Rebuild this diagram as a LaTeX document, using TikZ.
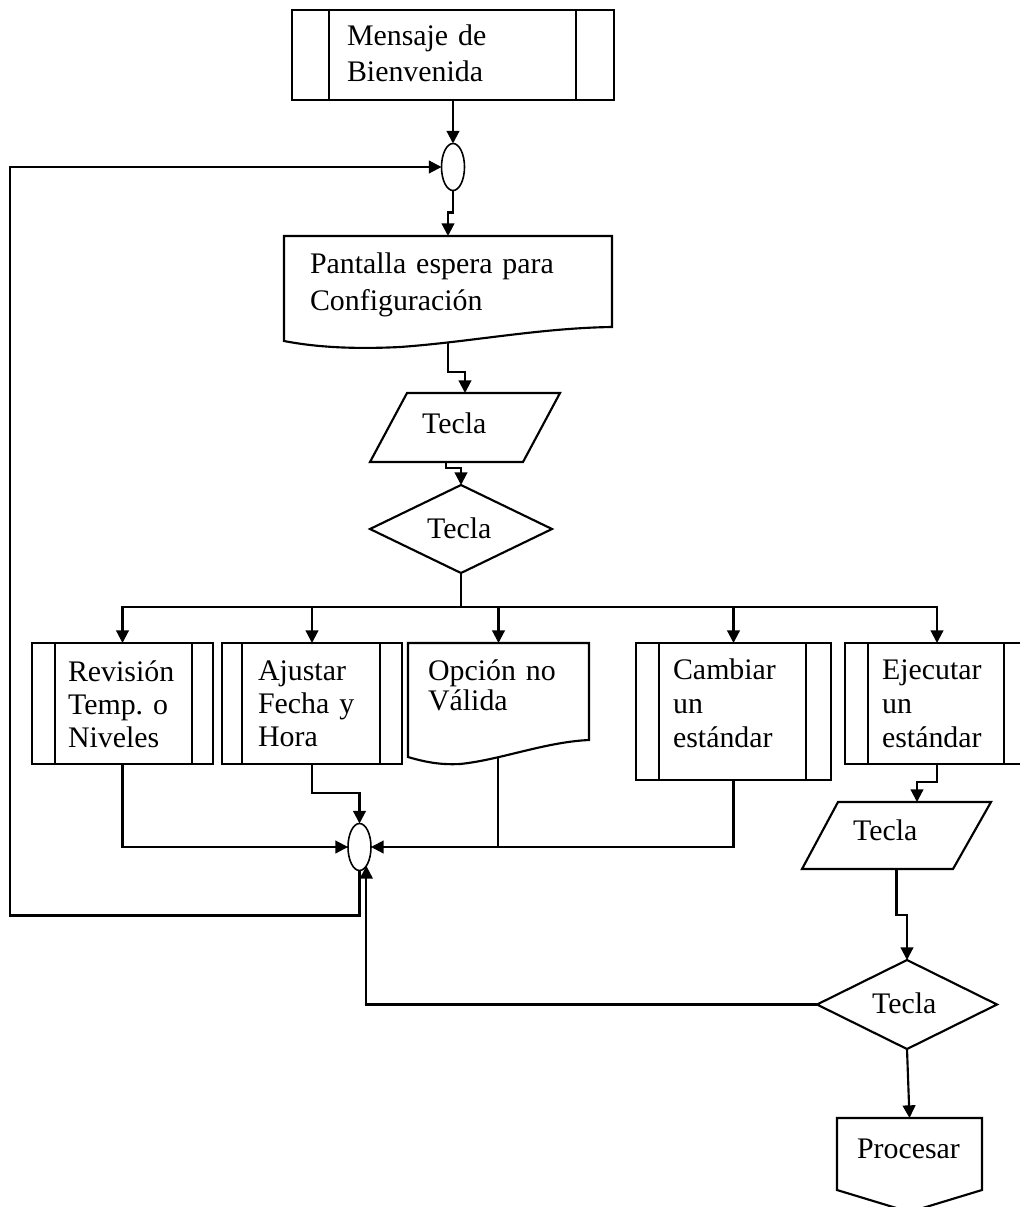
\documentclass[tikz,border=0pt]{standalone}
\usepackage{fontspec}
\setmainfont{Liberation Serif}
\usetikzlibrary{arrows.meta,fit,shapes.geometric,calc}
\frenchspacing
\begin{document}
\begin{tikzpicture}[x=0.75pt,y=-0.75pt,line width=1.6pt,
  frame/.style={inner sep=0pt,outer sep=0pt,fit={#1}},
  proc/.style={frame={#1},draw},
  conn/.style={ellipse,draw,line width=1.2pt,inner sep=0pt,outer sep=0pt,
    minimum width=17.25pt,minimum height=35.25pt},
  lbl/.style={inner sep=0pt,anchor=base west,align=left,text width=200pt,
    font=\fontsize{22.4}{#1}\selectfont},
  lbl/.default=27.5pt,
  arr/.style={-{Triangle[length=9.5pt,width=9.5pt]}},
]
\useasboundingbox (0,0) rectangle (1020,1207);
\clip (0,0) rectangle (1020,1207);

% welcome message (predefined process)
\node[proc={(292,10) (614,100)}] (msg) {};
\node[lbl=27.5pt] (msgT) at (346,45) {Mensaje de\\Bienvenida};

% upper junction
\node[conn] (c1) at (453,167) {};

% waiting screen (document)
\node[frame={(284,236) (612,347)}] (doc1) {};
\draw (284,341) -- (284,236) -- (612,236) -- (612,327)
  .. controls (540,328) and (470,342) .. (400,347)
  .. controls (360,349) and (320,348) .. (284,341) -- cycle;
\coordinate (doc1out) at (448,343);
\node[lbl=27.75pt] (doc1T) at (309,273) {Pantalla espera para\\Configuración};

% key input
\node[frame={(370,393) (560,462)}] (in1) {};
\draw (407,393) -- (560,393) -- (523,462) -- (370,462) -- cycle;
\coordinate (in1out) at (446,462);
\node[lbl] (in1T) at (421,433) {Tecla};

% key decision
\node[frame={(370,485) (552,573)}] (dec1) {};
\draw (dec1.north) -- (dec1.east) -- (dec1.south) -- (dec1.west) -- cycle;
\node[lbl] (dec1T) at (426,538) {Tecla};

% options row
\node[proc={(32,643) (213,764)}] (rev) {};
\node[proc={(222,643) (402,764)}] (aju) {};
\node[frame={(408,643) (589,764)}] (opc) {};
\draw (408,757) -- (408,643) -- (589,643) -- (589,740)
  .. controls (545,742) and (500,760) .. (460,764)
  .. controls (440,765) and (425,762) .. (408,757) -- cycle;
\coordinate (opcout) at (498,757);
\node[proc={(636,643) (831,780)}] (cam) {};
\node[proc={(845,643) (1029,764)}] (eje) {};
\foreach \n/\l/\r in {msg/37/38, rev/23/21, aju/20/22, cam/23/25, eje/23/25}
  \draw ($(\n.north west)+(\l,0)$) -- ($(\n.south west)+(\l,0)$)
        ($(\n.north east)+(-\r,0)$) -- ($(\n.south east)+(-\r,0)$);

\node[lbl=24.75pt] (revT) at (67,681) {Revisión\\Temp. o\\Niveles};
\node[lbl=25pt] (ajuT) at (257,680) {Ajustar\\Fecha y\\Hora};
\node[lbl=22.5pt] (opcT) at (427,680) {Opción no\\Válida};
\node[lbl=25.5pt] (camT) at (672,679) {Cambiar\\un\\estándar};
\node[lbl=25.5pt] (ejeT) at (881,679) {Ejecutar\\un\\estándar};

% lower junction
\node[conn] (c2) at (359.5,847) {};

% second key input
\node[frame={(802,802) (991,869)}] (in2) {};
\draw (838,802) -- (991,802) -- (953,869) -- (802,869) -- cycle;
\coordinate (in2in) at (917,802);
\node[lbl] (in2T) at (852,840) {Tecla};

% second key decision
\node[frame={(817,960) (997,1049)}] (dec2) {};
\draw (dec2.north) -- (dec2.east) -- (dec2.south) -- (dec2.west) -- cycle;
\node[lbl] (dec2T) at (871,1013) {Tecla};

% process (off-page connector)
\node[frame={(837,1118) (982,1212)}] (prc) {};
\draw (837,1118) -- (982,1118) -- (982,1190) -- (909.5,1212) -- (837,1190) -- cycle;
\node[lbl] (prcT) at (856,1158) {Procesar};

% connectors
\draw[arr] (msg.south) -- (c1.north);
\draw[arr] (c1.south) -- ++(0,22) -| (doc1.north);
\draw[arr] (doc1out) -- ++(0,29) -| (in1.north);
\draw[arr] (in1out) -- ++(0,6) -| (dec1.north);
\foreach \t in {rev,aju,opc,cam,eje}
  \draw[arr] (dec1.south) -- ++(0,34) -| (\t.north);
\draw[arr] (rev.south) |- (c2.west);
\draw[arr] (aju.south) -- ++(0,29) -| (c2.north);
\draw[arr] (cam.south) |- (c2.east);
\draw (opcout) -- (opcout |- c2.east);
\draw[arr] (c2.south) -- ++(0,45) -- ++(-349.5,0) |- (c1.west);
\draw[arr] (eje.south) -- ++(0,18) -| (in2in);
\draw[arr] (in2.south) -- ++(0,46) -| (dec2.north);
\draw[arr] (dec2.west) -| (c2.290);
\draw[arr] (dec2.south) -- (prc.north);
\end{tikzpicture}
\end{document}
